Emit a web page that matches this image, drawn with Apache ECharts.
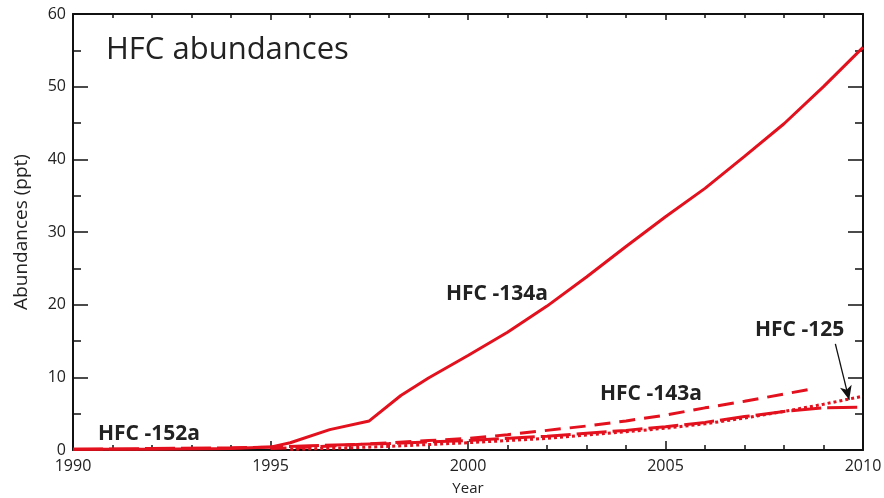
<!DOCTYPE html>
<html>
<head>
<meta charset="utf-8">
<script src="https://cdn.jsdelivr.net/npm/echarts@6/dist/echarts.min.js"></script>
<style>
  html, body { margin: 0; padding: 0; background: #fff; }
  #chart { width: 884px; height: 498px; }
</style>
</head>
<body>
<div id="chart"></div>
<script>
// values (ppt)
const hfc134a = [[1990, 0.1], [1992, 0.1], [1994, 0.2], [1995, 0.4], [1995.5, 1.0], [1996.5, 2.8], [1997.5, 4.0],
  [1998.3, 7.5], [1999, 9.9], [2000, 13.0], [2001, 16.2], [2002, 19.8], [2003, 23.8], [2004, 28.0],
  [2005, 32.1], [2006, 36.0], [2007, 40.4], [2008, 44.9], [2009, 50.0], [2010, 55.4]];
const hfc143a = [[1995, 0.2], [1996, 0.4], [1997, 0.7], [1998, 1.0], [1999, 1.3], [2000, 1.6], [2001, 2.1],
  [2002, 2.7], [2003, 3.3], [2004, 4.0], [2005, 4.8], [2006, 5.8], [2007, 6.7], [2008, 7.7], [2008.6, 8.3]];
const hfc152a = [[1990, 0.1], [1992, 0.2], [1994, 0.3], [1995, 0.4], [1996, 0.6], [1998, 0.9], [2000, 1.3],
  [2002, 1.9], [2004, 2.7], [2005, 3.2], [2006, 3.8], [2007, 4.6], [2008, 5.3], [2009, 5.8], [2010, 5.9]];
const hfc125 = [[1995.5, 0.1], [1997, 0.3], [1998, 0.5], [2000, 1.0], [2002, 1.6], [2004, 2.5], [2005, 3.0],
  [2006, 3.6], [2007, 4.4], [2008, 5.3], [2009, 6.3], [2010, 7.4]];
const arrowFrom = [2009.3, 14.6];
const arrowTo = [2009.65, 6.9];

const red = '#e3101d';
const ink = '#222';
const font = '"Open Sans", Lato, sans-serif';

const chart = echarts.init(document.getElementById('chart'));

function xAx(pos) {
  return {
    type: 'value', position: pos, min: 1990, max: 2010, interval: 5,
    name: pos === 'bottom' ? 'Year' : '', nameLocation: 'middle', nameGap: 31,
    nameTextStyle: { fontFamily: font, fontSize: 15, color: ink },
    axisLine: { show: true, onZero: false, lineStyle: { color: '#111', width: 2 } },
    axisTick: { show: true, inside: true, length: pos === 'bottom' ? 9 : 6, lineStyle: { color: '#111', width: 1.5 } },
    minorTick: { show: true, splitNumber: 5, length: pos === 'bottom' ? 5 : 4, lineStyle: { color: '#111', width: 1.5 } },
    axisLabel: { show: pos === 'bottom', fontFamily: font, fontSize: 16, color: ink, margin: 8,
      formatter: v => String(v) },
    splitLine: { show: false }
  };
}
function yAx(pos) {
  return {
    type: 'value', position: pos, min: 0, max: 60, interval: 10,
    name: pos === 'left' ? 'Abundances (ppt)' : '', nameLocation: 'middle', nameGap: 42,
    nameTextStyle: { fontFamily: font, fontSize: 19, color: ink },
    axisLine: { show: true, onZero: false, lineStyle: { color: '#111', width: 2 } },
    axisTick: { show: true, inside: true, length: 15, lineStyle: { color: '#111', width: 1.5 } },
    minorTick: { show: true, splitNumber: 2, length: 8, lineStyle: { color: '#111', width: 1.5 } },
    axisLabel: { show: pos === 'left', fontFamily: font, fontSize: 16, color: ink, margin: 7 },
    splitLine: { show: false }
  };
}

function line(name, data, type, width) {
  return {
    name, type: 'line', data, showSymbol: false, smooth: false, z: 3,
    lineStyle: { color: red, width: width || 3, type }
  };
}

chart.setOption({
  animation: false,
  backgroundColor: '#fff',
  grid: { left: 73, right: 21, top: 14, bottom: 48, outerBoundsMode: 'none', containLabel: false },
  xAxis: [xAx('bottom'), xAx('top')],
  yAxis: [yAx('left'), yAx('right')],
  series: [
    line('HFC-152a', hfc152a, [30, 6]),
    line('HFC-125', hfc125, [3, 3], 3),
    line('HFC-143a', hfc143a, [16, 9]),
    line('HFC-134a', hfc134a, 'solid'),
    {
      type: 'line', data: [], silent: true,
      markLine: {
        silent: true, symbol: ['none', 'arrow'], symbolSize: [9, 14],
        lineStyle: { color: '#111', width: 1.3, type: 'solid' }, label: { show: false },
        data: [[{ coord: arrowFrom }, { coord: arrowTo }]]
      }
    }
  ],
  graphic: [
    { type: 'text', left: 106, top: 35, style: { text: 'HFC abundances', fontFamily: font, fontSize: 31, fill: ink } },
    { type: 'text', left: 446, top: 284, style: { text: 'HFC -134a', fontFamily: font, fontSize: 21, fontWeight: 'bold', fill: ink } },
    { type: 'text', left: 600, top: 384, style: { text: 'HFC -143a', fontFamily: font, fontSize: 21, fontWeight: 'bold', fill: ink } },
    { type: 'text', left: 755, top: 320, style: { text: 'HFC -125', fontFamily: font, fontSize: 21, fontWeight: 'bold', fill: ink } },
    { type: 'text', left: 98, top: 424, style: { text: 'HFC -152a', fontFamily: font, fontSize: 21, fontWeight: 'bold', fill: ink } }
  ]
});
</script>
</body>
</html>
